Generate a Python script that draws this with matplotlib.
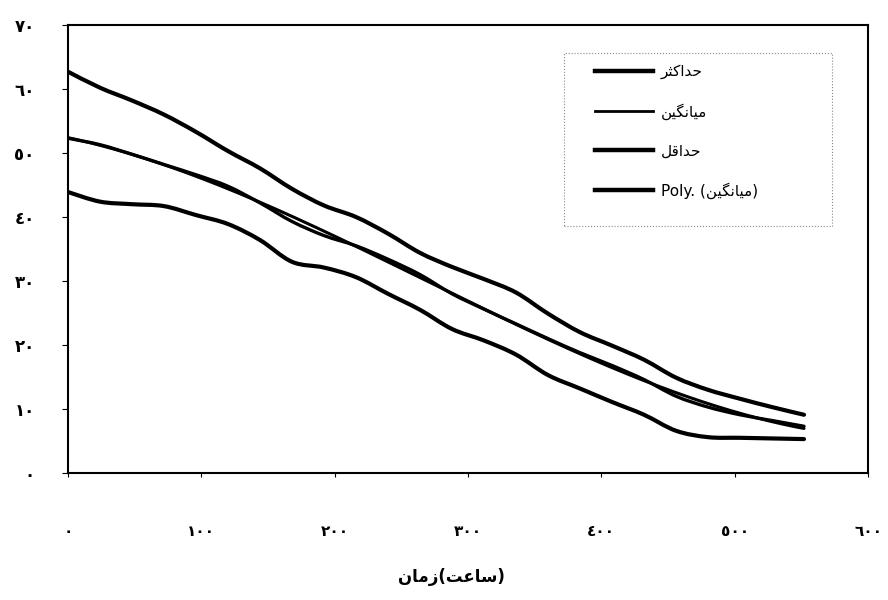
import matplotlib
matplotlib.use("Agg")
import matplotlib.pyplot as plt
from matplotlib.patches import Rectangle, PathPatch
from matplotlib.path import Path
from matplotlib.lines import Line2D
import numpy as np

plt.rcParams['font.family'] = ['DejaVu Sans']

hours = [0, 24, 48, 72, 96, 120, 144, 168, 192, 216, 240, 264,
         288, 312, 336, 360, 384, 408, 432, 456, 480, 504, 528, 552]
y_max = [62.7, 60.2, 58.2, 56.0, 53.3, 50.3, 47.6, 44.4, 41.8, 40.0, 37.4, 34.4,
         32.2, 30.3, 28.2, 24.9, 22.0, 19.9, 17.7, 14.9, 13.0, 11.6, 10.3, 9.1]
y_mean = [52.3, 51.3, 49.8, 48.2, 46.6, 44.8, 42.2, 39.3, 37.1, 35.5, 33.4, 31.0,
          28.0, 25.6, 23.3, 21.0, 18.8, 16.8, 14.6, 12.0, 10.3, 9.1, 8.2, 7.3]
y_min = [43.9, 42.4, 42.0, 41.7, 40.3, 38.9, 36.4, 33.0, 32.1, 30.6, 28.0, 25.5,
         22.5, 20.7, 18.5, 15.3, 13.2, 11.1, 9.1, 6.6, 5.6, 5.5, 5.4, 5.3]

x_ticks = [0, 100, 200, 300, 400, 500, 600]
x_ticklabels = ['٠', '١٠٠', '٢٠٠', '٣٠٠', '٤٠٠', '٥٠٠', '٦٠٠']
y_ticks = [0, 10, 20, 30, 40, 50, 60, 70]
y_ticklabels = ['٠', '١٠', '٢٠', '٣٠', '٤٠', '٥٠', '٦٠', '٧٠']

# persian labels, already in joined presentation forms and visual order
# (matplotlib has no bidi / shaping)
lbl_max = "\uFEAE\uFE9C\uFB90\uFE8D\uFEAA\uFEA3"          # حداکثر
lbl_mean = "\uFEE6\uFBFF\uFB95\uFEE7\uFE8E\uFBFF\uFEE3"   # میانگین
lbl_min = "\uFEDE\uFED7\uFE8D\uFEAA\uFEA3"                # حداقل
lbl_poly = "Poly. (" + lbl_mean + ")"                     # Poly. (میانگین)
x_title = "\uFEE5\uFE8E\uFEE3\uFEAF(\uFE96\uFECB\uFE8E\uFEB3)"  # زمان(ساعت)


def smooth_path(xs, ys):
    # excel style "smoothed line": bezier segments through the points
    p = np.column_stack([xs, ys]).astype(float)
    p = np.vstack([p[0], p, p[-1]])
    verts = [p[1]]
    codes = [Path.MOVETO]
    for i in range(1, len(p) - 2):
        c1 = p[i] + (p[i+1] - p[i-1]) / 6
        c2 = p[i+1] - (p[i+2] - p[i]) / 6
        verts += [c1, c2, p[i+1]]
        codes += [Path.CURVE4] * 3
    return Path(verts, codes)


fig = plt.figure(figsize=(8.88, 6), dpi=100)
ax = fig.add_axes([68/888, 1-473/600, (868-68)/888, (473-25)/600])

# polynomial trend line of the mean, as excel drew it
coef = np.polyfit(hours, y_mean, 3)
t = np.linspace(hours[0], hours[-1], 200)

for ys, lw in [(y_max, 3.0), (y_mean, 2.4), (y_min, 3.0)]:
    ax.add_patch(PathPatch(smooth_path(hours, ys), fill=False, edgecolor='black',
                           lw=lw, capstyle='round', joinstyle='round'))
ax.plot(t, np.polyval(coef, t), color='black', lw=2.2, solid_capstyle='round')

ax.set_xlim(0, 600)
ax.set_ylim(0, 70)
ax.set_xticks(x_ticks)
ax.set_xticklabels(x_ticklabels, fontsize=11, fontweight='bold')
ax.set_yticks(y_ticks)
ax.set_yticklabels(y_ticklabels, fontsize=12, fontweight='bold')
ax.tick_params(axis='x', length=3, width=0.8, pad=34)
ax.tick_params(axis='y', length=4, width=0.8, pad=20)
for s in ax.spines.values():
    s.set_linewidth(1.5)
    s.set_color('black')

fig.text(451/888, 1-577/600, x_title, ha='center', va='center',
         fontsize=12, fontweight='bold')

# legend, dotted box drawn separately
handles = [Line2D([], [], color='black', lw=3.2),
           Line2D([], [], color='black', lw=2.0),
           Line2D([], [], color='black', lw=3.2),
           Line2D([], [], color='black', lw=3.2)]
leg = ax.legend(handles, [lbl_max, lbl_mean, lbl_min, lbl_poly],
                loc='upper left', bbox_to_anchor=(595/888, 1-64/600),
                bbox_transform=fig.transFigure, frameon=False, fontsize=11,
                borderpad=0, borderaxespad=0, handlelength=3.8,
                handletextpad=0.5, labelspacing=1.55)
fig.patches.append(Rectangle((564/888, 1-226/600), (832-564)/888, (226-53)/600,
                             transform=fig.transFigure, fill=False,
                             edgecolor='#888888', lw=0.8, ls=':'))

fig.savefig("out.png", dpi=100)
